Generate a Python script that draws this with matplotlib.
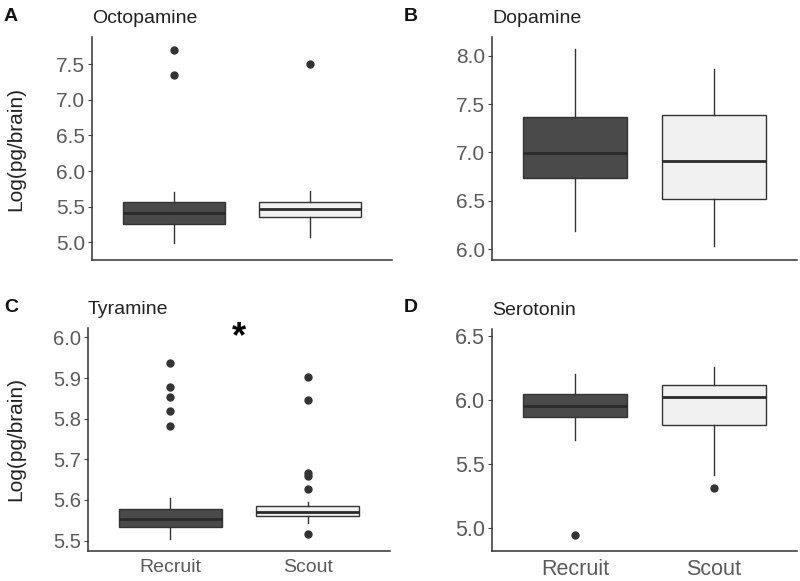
import matplotlib
matplotlib.use('Agg')
import matplotlib.pyplot as plt

plt.rcParams['font.family'] = ['Liberation Sans', 'DejaVu Sans']

groups = ["Recruit", "Scout"]

# per panel: [whislo, q1, med, q3, whishi] for Recruit and Scout, plus outliers
octopamine = {"Recruit": [4.99, 5.25, 5.41, 5.56, 5.70], "Scout": [5.07, 5.35, 5.47, 5.56, 5.72]}
octopamine_out = {"Recruit": [7.70, 7.35], "Scout": [7.51]}

dopamine = {"Recruit": [6.19, 6.74, 6.99, 7.37, 8.07], "Scout": [6.03, 6.52, 6.91, 7.39, 7.86]}
dopamine_out = {"Recruit": [], "Scout": []}

tyramine = {"Recruit": [5.503, 5.533, 5.554, 5.578, 5.604], "Scout": [5.544, 5.561, 5.571, 5.585, 5.595]}
tyramine_out = {"Recruit": [5.937, 5.879, 5.854, 5.820, 5.782], "Scout": [5.902, 5.846, 5.666, 5.659, 5.627, 5.516]}

serotonin = {"Recruit": [5.69, 5.865, 5.954, 6.048, 6.205], "Scout": [5.416, 5.808, 6.024, 6.116, 6.262]}
serotonin_out = {"Recruit": [4.945], "Scout": [5.314]}

fills = {"Recruit": "#4a4a4a", "Scout": "#f1f1f1"}
edge = "#333333"
tick_grey = "#5a5a5a"


def draw_panel(ax, stats, outliers, ylim, yticks, title, tick_size, xlab_size):
    bstats = []
    for g in groups:
        lo, q1, med, q3, hi = stats[g]
        bstats.append(dict(whislo=lo, q1=q1, med=med, q3=q3, whishi=hi,
                           fliers=outliers[g], label=g))
    bp = ax.bxp(bstats, positions=[1, 2], widths=0.75, patch_artist=True,
                showcaps=False,
                boxprops=dict(edgecolor=edge, linewidth=1.0),
                whiskerprops=dict(color=edge, linewidth=1.0),
                medianprops=dict(color="#2a2a2a", linewidth=2.0),
                flierprops=dict(marker='o', markerfacecolor="#333333",
                                markeredgecolor="#333333", markersize=5))
    for patch, g in zip(bp['boxes'], groups):
        patch.set_facecolor(fills[g])
    ax.set_xlim(0.4, 2.6)
    ax.set_ylim(*ylim)
    ax.set_yticks(yticks)
    ax.set_yticklabels([f"{t:.1f}" for t in yticks])
    for s in ['top', 'right']:
        ax.spines[s].set_visible(False)
    for s in ['left', 'bottom']:
        ax.spines[s].set_color("#333333")
        ax.spines[s].set_linewidth(1.1)
    ax.tick_params(axis='y', colors="#444444", labelcolor=tick_grey,
                   labelsize=tick_size, length=3, width=0.8, pad=2)
    ax.tick_params(axis='x', length=0, labelcolor=tick_grey, pad=6)
    if xlab_size:
        ax.tick_params(axis='x', labelsize=xlab_size)
    else:
        ax.set_xticklabels([])
    ax.set_title(title, loc='left', pad=10, fontsize=14, color="#222222")
    return ax


fig = plt.figure(figsize=(8, 5.81), dpi=100)
axA = fig.add_axes([0.115, 0.5525, 0.375, 0.3835])
axB = fig.add_axes([0.615, 0.5525, 0.381, 0.3835])
axC = fig.add_axes([0.110, 0.052, 0.3775, 0.384])
axD = fig.add_axes([0.615, 0.052, 0.381, 0.382])

draw_panel(axA, octopamine, octopamine_out, (4.75, 7.88),
           [5.0, 5.5, 6.0, 6.5, 7.0, 7.5], "Octopamine", 15, None)
draw_panel(axB, dopamine, dopamine_out, (5.89, 8.19),
           [6.0, 6.5, 7.0, 7.5, 8.0], "Dopamine", 15, None)
draw_panel(axC, tyramine, tyramine_out, (5.475, 6.024),
           [5.5, 5.6, 5.7, 5.8, 5.9, 6.0], "Tyramine", 14.5, 14)
draw_panel(axD, serotonin, serotonin_out, (4.822, 6.557),
           [5.0, 5.5, 6.0, 6.5], "Serotonin", 15.5, 15.5)

axA.set_ylabel("Log(pg/brain)", fontsize=15, color="#222222")
axA.yaxis.set_label_coords(-0.223, 0.5)
axC.set_ylabel("Log(pg/brain)", fontsize=15, color="#222222")
axC.yaxis.set_label_coords(-0.209, 0.5)
axC.text(1.5, 6.0, "*", ha='center', va='center', fontsize=26,
         fontweight='bold', color="black")

for letter, x, y in [("A", 0.005, 0.971), ("B", 0.505, 0.971),
                     ("C", 0.005, 0.470), ("D", 0.505, 0.470)]:
    fig.text(x, y, letter, fontsize=14, fontweight='bold', ha='left',
             va='center', color="#111111")

fig.savefig("out.png", dpi=100)
